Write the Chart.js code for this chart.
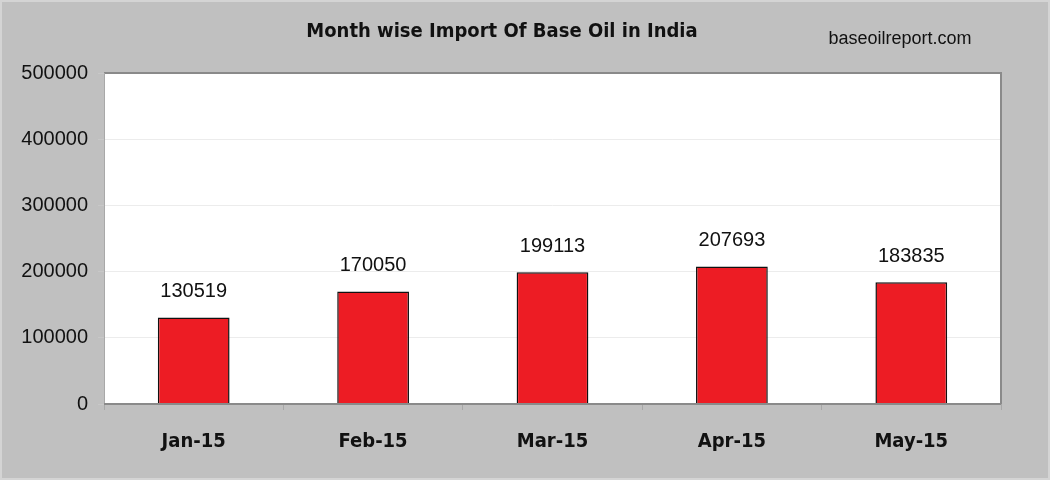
<!DOCTYPE html>
<html>
<head>
<meta charset="utf-8">
<script src="https://cdn.jsdelivr.net/npm/chart.js@4/dist/chart.umd.min.js"></script>
<style>
  html, body { margin: 0; padding: 0; background: #c0c0c0; }
  #wrap { width: 1050px; height: 480px; }
</style>
</head>
<body>
<div id="wrap"><canvas id="c" width="1050" height="480"></canvas></div>
<script>
const categories = ["Jan-15", "Feb-15", "Mar-15", "Apr-15", "May-15"];
const importValues = [130519, 170050, 199113, 207693, 183835];
const yTicks = [0, 100000, 200000, 300000, 400000, 500000];
const chartTitle = "Month wise Import Of Base Oil in India";
const sourceText = "baseoilreport.com";

const bgPlugin = {
  id: 'bg',
  beforeDraw(chart) {
    const { ctx, chartArea: a } = chart;
    ctx.save();
    ctx.fillStyle = '#c0c0c0';
    ctx.fillRect(0, 0, chart.width, chart.height);
    ctx.strokeStyle = '#d4d4d4';
    ctx.lineWidth = 2;
    ctx.strokeRect(1, 1, chart.width - 2, chart.height - 2);
    ctx.fillStyle = '#ffffff';
    ctx.fillRect(a.left, a.top, a.right - a.left, a.bottom - a.top);
    ctx.restore();
  },
  afterDatasetsDraw(chart) {
    const { ctx, chartArea: a } = chart;
    ctx.save();
    ctx.strokeStyle = '#8a8a8a';
    ctx.lineWidth = 2;
    ctx.beginPath();
    ctx.moveTo(a.left, a.top);
    ctx.lineTo(a.right, a.top);
    ctx.lineTo(a.right, a.bottom);
    ctx.stroke();
    ctx.strokeStyle = '#a8a8a8';
    ctx.lineWidth = 1;
    ctx.beginPath();
    ctx.moveTo(a.left + 0.5, a.top);
    ctx.lineTo(a.left + 0.5, a.bottom);
    ctx.stroke();
    ctx.strokeStyle = '#8a8a8a';
    ctx.lineWidth = 2;
    ctx.beginPath();
    ctx.moveTo(a.left, a.bottom);
    ctx.lineTo(a.right, a.bottom);
    ctx.stroke();
    // value labels
    ctx.fillStyle = '#111';
    ctx.font = '20px "Liberation Sans", Arial, sans-serif';
    ctx.textAlign = 'center';
    ctx.textBaseline = 'middle';
    const meta = chart.getDatasetMeta(0);
    meta.data.forEach((bar, i) => {
      ctx.fillText(String(chart.data.datasets[0].data[i]), bar.x, bar.y - 26);
    });
    // title and source
    ctx.font = 'bold 20px "Liberation Sans Narrow", "DejaVu Sans Condensed", Arial, sans-serif';
    ctx.fillText(chartTitle, 502, 32);
    ctx.font = '18px "Liberation Sans", Arial, sans-serif';
    ctx.fillText(sourceText, 900, 39);
    ctx.restore();
  }
};

new Chart(document.getElementById('c'), {
  type: 'bar',
  data: {
    labels: categories,
    datasets: [{
      data: importValues,
      backgroundColor: '#ed1c24',
      borderColor: '#111111',
      borderWidth: 1.5,
      categoryPercentage: 1.0,
      barPercentage: 0.4
    }]
  },
  options: {
    responsive: false,
    animation: false,
    layout: { padding: { top: 73, right: 49, left: 0, bottom: 0 } },
    plugins: { legend: { display: false }, tooltip: { enabled: false }, title: { display: false } },
    scales: {
      x: {
        afterFit(scale) { scale.height = 76; },
        grid: { display: true, drawOnChartArea: false, color: '#a8a8a8', tickLength: 6, offset: true },
        border: { display: false },
        ticks: {
          color: '#111',
          padding: 20,
          font: { family: '"Liberation Sans Narrow", "DejaVu Sans Condensed", Arial, sans-serif', size: 20, weight: 'bold' }
        }
      },
      y: {
        min: 0,
        max: 500000,
        afterFit(scale) { scale.width = 104; },
        afterBuildTicks(scale) { scale.ticks = yTicks.map(v => ({ value: v })); },
        grid: { color: '#ececec', tickLength: 6, tickColor: '#c8c8c8' },
        border: { display: false },
        ticks: {
          color: '#111',
          padding: 10,
          callback: (v) => String(v),
          font: { family: '"Liberation Sans", Arial, sans-serif', size: 20 }
        }
      }
    }
  },
  plugins: [bgPlugin]
});
</script>
</body>
</html>
